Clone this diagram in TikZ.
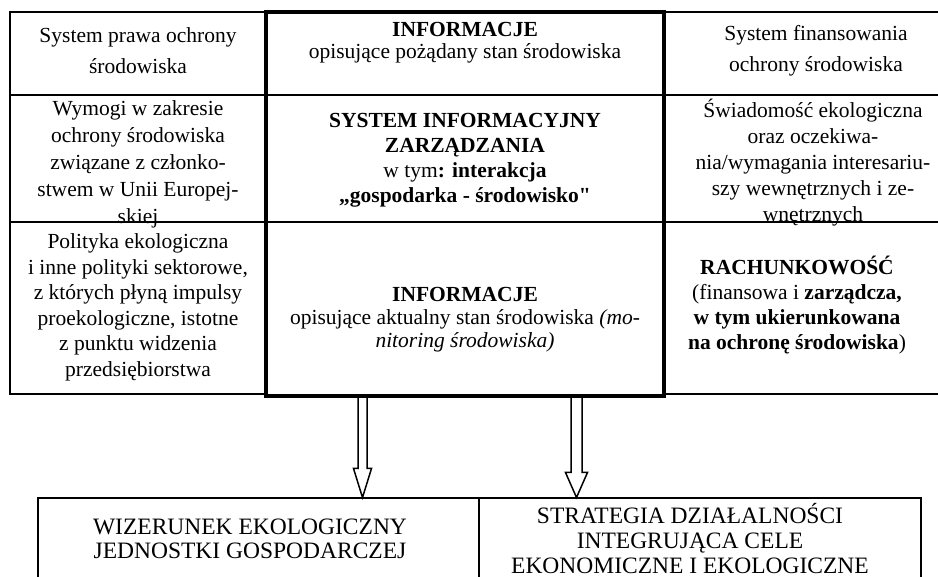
\documentclass[tikz,border=0pt]{standalone}
\usepackage{fontspec}
\setmainfont{Liberation Serif}
\newfontfamily\straightq{Liberation Serif}[Ligatures=TeXOff]
\usetikzlibrary{calc}
\begin{document}
\begin{tikzpicture}[x=1pt,y=-1pt,
  cell/.style={draw, line width=2pt, inner sep=0pt, outer sep=0pt, anchor=north west},
  framecol/.style={draw, line width=4.5pt, inner sep=0pt, outer sep=0pt, anchor=north west},
  txt/.style={align=center, inner sep=0pt, font=\fontsize{21.5}{#1}\selectfont},
  captxt/.style={align=center, inner sep=0pt, font=\fontsize{23.5}{#1}\selectfont},
  blockarrow/.style n args={3}{line width=1.5pt, line join=miter, to path={
    let \p1=(\tikztostart), \p2=(\tikztotarget) in
    (\x1-#1,\y1) -- (\x1-#1,\y2+#3) -- (\x1-#2,\y2+#3) -- (\x2,\y2)
    -- (\x1+#2,\y2+#3) -- (\x1+#1,\y2+#3) -- (\x1+#1,\y1)}}
]
\useasboundingbox (0,0) rectangle (938,577);
\clip (0,0) rectangle (938,577);

% left column
\node[cell, minimum width=256pt, minimum height=83pt]  (L1) at (10,12) {};
\node[cell, minimum width=256pt, minimum height=127pt] (L2) at (10,95) {};
\node[cell, minimum width=256pt, minimum height=172pt] (L3) at (10,222) {};
% centre column
\node[cell, minimum width=398pt, minimum height=83pt]  (C1) at (266,12) {};
\node[cell, minimum width=398pt, minimum height=127pt] (C2) at (266,95) {};
\node[cell, minimum width=398pt, minimum height=174pt] (C3) at (266,222) {};
% right column
\node[cell, minimum width=304pt, minimum height=83pt]  (R1) at (664,12) {};
\node[cell, minimum width=304pt, minimum height=127pt] (R2) at (664,95) {};
\node[cell, minimum width=304pt, minimum height=172pt] (R3) at (664,222) {};
% bottom boxes
\node[cell, minimum width=441pt, minimum height=120pt] (B1) at (38,497.5) {};
\node[cell, minimum width=442pt, minimum height=120pt] (B2) at (479,497.5) {};

% arrows
\coordinate (a1s) at (362.5,396);
\coordinate (a1e) at (B1.north -| a1s);
\coordinate (a2s) at (576.5,396);
\coordinate (a2e) at (B2.north -| a2s);
\draw[blockarrow={4.5pt}{9pt}{29pt}] (a1s) to (a1e);
\draw[blockarrow={5.5pt}{11pt}{25pt}] (a2s) to (a2e);

% thick frame of centre column
\node[framecol, minimum width=398pt, minimum height=384pt] (C) at (266,12) {};

% texts
\node[txt=31] (tL1) at (138,50.5) {System prawa ochrony\\środowiska};
\node[txt=22] (tC1) at (465,42.5) {\textbf{INFORMACJE}\\opisujące pożądany stan środowiska};
\node[txt=31] (tR1) at (816,50.5) {System finansowania\\ochrony środowiska};

\node[txt=27] (tL2) at (138,164.5) {Wymogi w zakresie\\ochrony środowiska\\związane z członko-\\stwem w Unii Europej-\\skiej};
\node[txt=25] (tC2) at (465,160) {\textbf{SYSTEM INFORMACYJNY}\\\textbf{ZARZĄDZANIA}\\w tym\textbf{: interakcja}\\\textbf{„gospodarka - środowisko{\straightq"}}};
\node[txt=26] (tR2) at (813,163) {Świadomość ekologiczna\\oraz oczekiwa-\\nia/wymagania interesariu-\\szy wewnętrznych i ze-\\wnętrznych};

\node[txt=25.5] (tL3) at (138,307.5) {Polityka ekologiczna\\i inne polityki sektorowe,\\z których płyną impulsy\\proekologiczne, istotne\\z punktu widzenia\\przedsiębiorstwa};
\node[txt=23] (tC3) at (465,319.5) {\textbf{INFORMACJE}\\opisujące aktualny stan środowiska \textit{(mo-}\\\textit{nitoring środowiska)}};
\node[txt=25] (tR3) at (797,305) {\textbf{RACHUNKOWOŚĆ}\\(finansowa i \textbf{zarządcza,}\\\textbf{w tym ukierunkowana}\\\textbf{na ochronę środowiska})};

\node[captxt=24.5] (tB1) at (250,539) {WIZERUNEK EKOLOGICZNY\\JEDNOSTKI GOSPODARCZEJ};
\node[captxt=25] (tB2) at (690,538.5) {STRATEGIA DZIAŁALNOŚCI\\INTEGRUJĄCA CELE\\EKONOMICZNE I EKOLOGICZNE};
\end{tikzpicture}
\end{document}
